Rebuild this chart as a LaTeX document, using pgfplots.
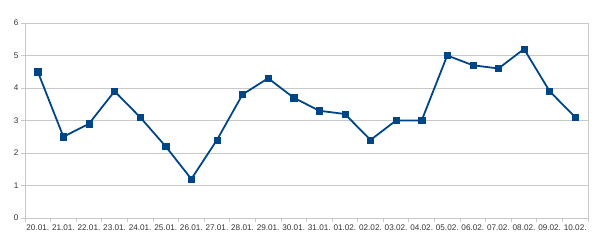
\documentclass[border=0pt]{standalone}
\usepackage{fontspec}
\setmainfont{Liberation Sans}
\usepackage{pgfplots}
\pgfplotsset{compat=1.18}
\definecolor{lineblue}{HTML}{004586}
\definecolor{gridgray}{HTML}{C8C8C8}
\definecolor{txtgray}{HTML}{333333}
\begin{document}
\begin{tikzpicture}[x=1bp,y=1bp]
\begin{axis}[
  at={(0,0)}, anchor=south west,
  scale only axis, width=563bp, height=195bp,
  xmin=-0.5, xmax=21.5, ymin=0, ymax=6,
  ytick={0,1,2,3,4,5,6},
  xtick={0,...,21},
  xticklabels={20.01.,21.01.,22.01.,23.01.,24.01.,25.01.,26.01.,27.01.,28.01.,29.01.,30.01.,31.01.,01.02.,02.02.,03.02.,04.02.,05.02.,06.02.,07.02.,08.02.,09.02.,10.02.},
  minor xtick={-0.5,0.5,...,21.5},
  major x tick style={draw=none},
  minor x tick style={draw=gridgray, line width=0.8pt},
  minor tick length=4bp,
  major tick length=4bp,
  tick align=outside,
  ytick style={draw=gridgray, line width=0.8pt},
  xtick pos=bottom, ytick pos=left,
  ymajorgrids, grid style={gridgray, line width=0.8pt},
  axis line style={gridgray, line width=0.8pt},
  axis x line*=bottom,
  axis y line*=left,
  tick label style={font=\fontsize{8.2}{9}\selectfont, text=txtgray},
  xticklabel style={yshift=1bp},
  yticklabel style={xshift=1bp},
  /pgf/number format/assume math mode=true,
  clip=false,
]
\addplot[lineblue, line width=1.8pt, mark=square*, mark size=3.1pt, mark options={fill=lineblue, draw=lineblue, line width=0.5pt}] coordinates {
(0,4.5) (1,2.5) (2,2.9) (3,3.9) (4,3.1) (5,2.2) (6,1.2) (7,2.4) (8,3.8) (9,4.3) (10,3.7) (11,3.3) (12,3.2) (13,2.4) (14,3.0) (15,3.0) (16,5.0) (17,4.7) (18,4.6) (19,5.2) (20,3.9) (21,3.1)
};
\draw[gridgray, line width=0.8pt] (axis cs:21.5,0) -- (axis cs:21.5,6);
\end{axis}
\pgfresetboundingbox
\path (-25,-24) rectangle (575,218);
\end{tikzpicture}
\end{document}
